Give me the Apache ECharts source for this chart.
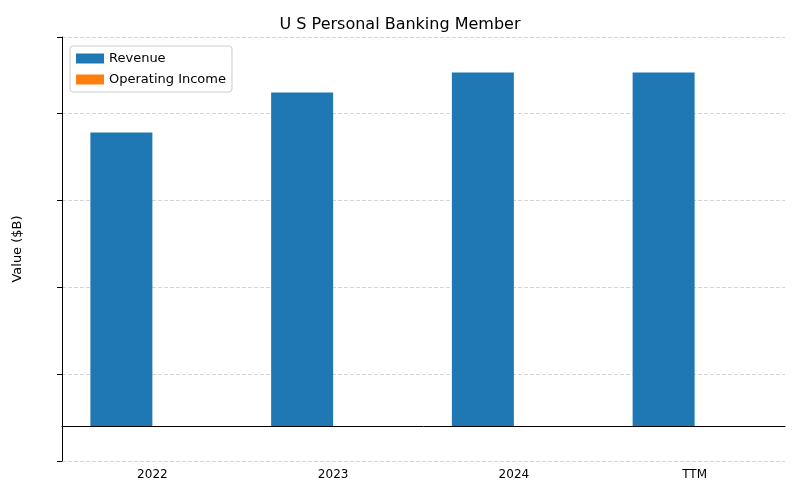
<!DOCTYPE html>
<html><head><meta charset="utf-8">
<script src="https://cdn.jsdelivr.net/npm/echarts@6/dist/echarts.min.js"></script>
<style>html,body{margin:0;padding:0;background:#fff}#c{width:800px;height:500px}</style>
</head><body><div id="c"></div>
<script>
const categories = ["2022", "2023", "2024", "TTM"];
const revenue = [16.9, 19.2, 20.35, 20.35];
const operatingIncome = [0, 0, 0, 0];
const yTicks = [0, 5, 10, 15, 20];

const chart = echarts.init(document.getElementById('c'));
chart.setOption({
  animation: false,
  title: { text: 'U S Personal Banking Member', left: 'center', top: 12,
    textStyle: { fontFamily: 'DejaVu Sans', fontSize: 16, fontWeight: 'normal', color: '#000' } },
  grid: { left: 62, right: 15, top: 37, bottom: 39 },
  legend: { left: 70, top: 46, orient: 'vertical', itemWidth: 28, itemHeight: 10, itemGap: 8,
    backgroundColor: '#fff', borderColor: '#ccc', borderWidth: 1, borderRadius: 3, padding: [6, 6],
    icon: 'rect', textStyle: { fontFamily: 'DejaVu Sans', fontSize: 13, color: '#000' },
    data: ['Revenue', 'Operating Income'] },
  xAxis: { type: 'category', data: categories,
    axisLine: { lineStyle: { color: '#000' } }, axisTick: { alignWithLabel: true, lineStyle: { color: '#000' } },
    axisLabel: { fontFamily: 'DejaVu Sans', fontSize: 12, color: '#000' } },
  yAxis: { type: 'value', min: -2.02, max: 22.4, interval: 5,
    name: 'Value ($B)', nameLocation: 'middle', nameGap: 38,
    nameTextStyle: { fontFamily: 'DejaVu Sans', fontSize: 13, color: '#000' },
    axisLine: { show: true, lineStyle: { color: '#000' } }, axisTick: { show: true, lineStyle: { color: '#000' } },
    axisLabel: { fontFamily: 'DejaVu Sans', fontSize: 12, color: '#000',
      formatter: v => yTicks.includes(v) ? String(v) : '' },
    splitLine: { lineStyle: { type: 'dashed', color: '#d5d5d5' } } },
  series: [
    { name: 'Revenue', type: 'bar', data: revenue, barWidth: 62, barGap: '0%', itemStyle: { color: '#1f77b4' } },
    { name: 'Operating Income', type: 'bar', data: operatingIncome, barWidth: 62, itemStyle: { color: '#ff7f0e' } }
  ]
});
</script></body></html>
